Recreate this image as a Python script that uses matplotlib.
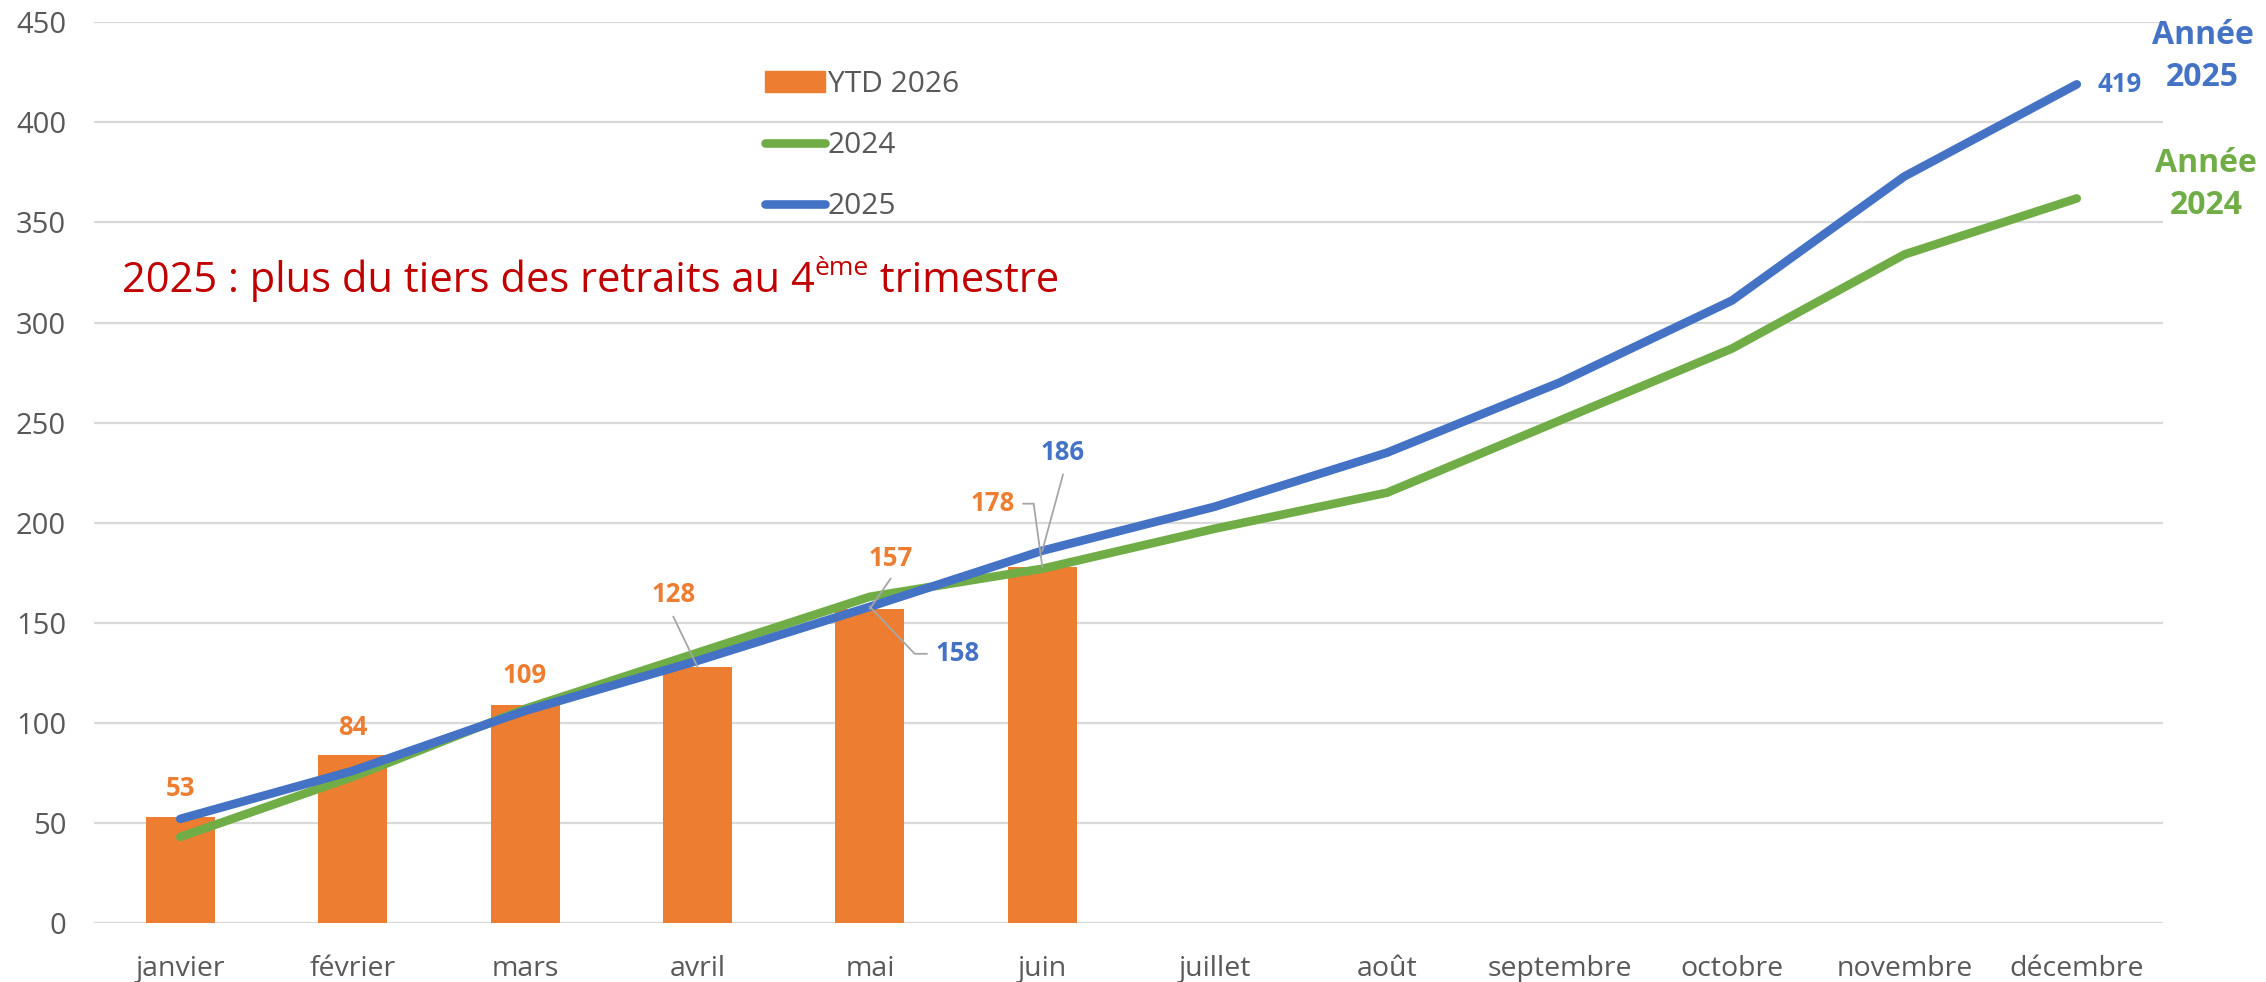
import matplotlib
matplotlib.use('Agg')
import matplotlib.pyplot as plt
from matplotlib.patches import Patch
from matplotlib.lines import Line2D

plt.rcParams['font.family'] = ['Open Sans', 'DejaVu Sans']

mois = ['janvier', 'février', 'mars', 'avril', 'mai', 'juin', 'juillet',
        'août', 'septembre', 'octobre', 'novembre', 'décembre']
ytd_2026 = [53, 84, 109, 128, 157, 178]
serie_2024 = [43, 73, 107, 135, 163, 177, 197, 215, 251, 287, 334, 362]
serie_2025 = [52, 76, 106, 131, 158, 186, 208, 235, 270, 311, 373, 419]
y_ticks = [0, 50, 100, 150, 200, 250, 300, 350, 400, 450]

ORANGE = '#ED7D31'
GREEN = '#70AD47'
BLUE = '#4472C4'
GREY = '#595959'
LEADER = '#A6A6A6'
RED = '#C00000'

W, H = 2266, 982
fig = plt.figure(figsize=(W / 100, H / 100), dpi=100)
ax = fig.add_axes([94 / W, 1 - 923 / H, (2163 - 94) / W, (923 - 22.3) / H])

x = list(range(len(mois)))
ax.bar(x[:len(ytd_2026)], ytd_2026, width=0.4, color=ORANGE, zorder=2)
ax.plot(x, serie_2024, color=GREEN, lw=6.2, solid_capstyle='round',
        solid_joinstyle='round', zorder=3)
ax.plot(x, serie_2025, color=BLUE, lw=6.2, solid_capstyle='round',
        solid_joinstyle='round', zorder=4)

ax.set_xlim(-0.5, 11.5)
ax.set_ylim(0, 450)
ax.set_yticks(y_ticks)
ax.set_xticks(x)
ax.set_xticklabels(mois)
ax.grid(axis='y', color='#D9D9D9', lw=1.6, zorder=0)
ax.set_axisbelow(True)
for s in ax.spines.values():
    s.set_visible(False)
ax.tick_params(axis='y', length=0, pad=20, labelsize=21, labelcolor=GREY)
ax.tick_params(axis='x', length=0, pad=23, labelsize=20.5, labelcolor=GREY)

# étiquettes de valeurs
lab = dict(fontsize=18.5, fontweight='bold', ha='center', va='center', zorder=6)
ax.text(0, 67, str(ytd_2026[0]), color=ORANGE, **lab)
ax.text(1, 97.5, str(ytd_2026[1]), color=ORANGE, **lab)
ax.text(2, 123.5, str(ytd_2026[2]), color=ORANGE, **lab)
ax.text(2.86, 164, str(ytd_2026[3]), color=ORANGE, **lab)
ax.plot([2.86, 3], [153, ytd_2026[3]], color=LEADER, lw=1.3, zorder=5)
ax.text(4.12, 182, str(ytd_2026[4]), color=ORANGE, **lab)
ax.plot([4.12, 4], [172, ytd_2026[4]], color=LEADER, lw=1.3, zorder=5)
ax.text(4.51, 134.5, str(serie_2025[4]), color=BLUE, **lab)
ax.plot([4.33, 4.26, 4], [134.5, 134.5, serie_2025[4]], color=LEADER, lw=1.3, zorder=5)
ax.text(4.71, 209.5, str(ytd_2026[5]), color=ORANGE, **lab)
ax.plot([4.89, 4.95, 5], [209.5, 209.5, ytd_2026[5]], color=LEADER, lw=1.3, zorder=5)
ax.text(5.12, 235, str(serie_2025[5]), color=BLUE, **lab)
ax.plot([5.12, 5], [224, serie_2025[5]], color=LEADER, lw=1.3, zorder=5)
ax.text(11.12, serie_2025[-1], str(serie_2025[-1]), color=BLUE, fontsize=18.5,
        fontweight='bold', ha='left', va='center')

ax.text(11.73, 433, 'Année\n2025', color=BLUE, fontsize=23, fontweight='bold',
        ha='center', va='center', linespacing=1.35, clip_on=False)
ax.text(11.75, 369, 'Année\n2024', color=GREEN, fontsize=23, fontweight='bold',
        ha='center', va='center', linespacing=1.35, clip_on=False)

handles = [Patch(color=ORANGE), Line2D([], [], color=GREEN, lw=6.2, solid_capstyle='round'),
           Line2D([], [], color=BLUE, lw=6.2, solid_capstyle='round')]
leg = fig.legend(handles, ['YTD 2026', '2024', '2025'], loc='upper left',
                 bbox_to_anchor=(765 / W, 1 - 70 / H), frameon=False, fontsize=21.5,
                 handlelength=2.0, handletextpad=0.1, labelspacing=1.08,
                 borderpad=0, borderaxespad=0)
for t in leg.get_texts():
    t.set_color(GREY)

# titre rouge avec exposant
fig.canvas.draw()
r = fig.canvas.get_renderer()
t1 = fig.text(122 / W, 1 - 292 / H, '2025 : plus du tiers des retraits au 4',
              color=RED, fontsize=30, ha='left', va='baseline')
bb = t1.get_window_extent(r)
t2 = fig.text(bb.x1 / W, 1 - 292 / H + 17 / H, 'ème', color=RED, fontsize=19,
              ha='left', va='baseline')
bb2 = t2.get_window_extent(r)
fig.text(bb2.x1 / W, 1 - 292 / H, ' trimestre', color=RED, fontsize=30,
         ha='left', va='baseline')

fig.savefig('out.png', dpi=100)
